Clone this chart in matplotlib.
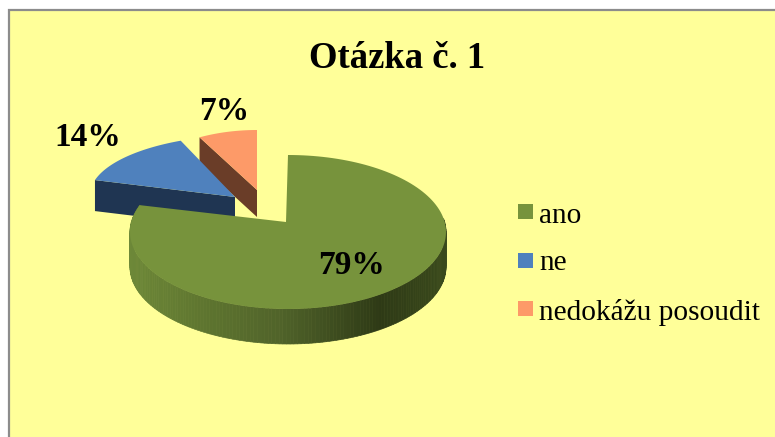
import numpy as np
import matplotlib.pyplot as plt
from matplotlib.patches import Polygon, Rectangle

plt.rcParams["font.family"] = ["Liberation Serif", "DejaVu Serif"]

categories = ["ano", "ne", "nedokážu posoudit"]
values = [79, 14, 7]
colors = ["#77933c", "#4f81bd", "#fd9a68"]
side_colors = ["#3a4a1c", "#1f3552", "#6a3d28"]


def arc(cx, cy, a0, a1, rx=158, ry=77):
    # angles run clockwise from 12 o'clock, like the pie itself
    t = np.radians(np.linspace(a0, a1, 160))
    return np.column_stack([cx + rx * np.sin(t), cy - ry * np.cos(t)])


fig = plt.figure(figsize=(7.75, 4.37), dpi=100, facecolor="white")
ax = fig.add_axes([0, 0, 1, 1])
ax.set_xlim(0, 775)
ax.set_ylim(437, 0)
ax.axis("off")

ax.add_patch(Rectangle((8.5, 9.5), 800, 460, fc="#ffff99", ec="#8c8c8c", lw=1.6))

ax.text(397.5, 58, "Otázka č. 1", fontsize=26.4, fontweight="bold", ha="center", va="center")

angles = np.cumsum([0] + values) / sum(values) * 360

# orange slice
pts = arc(257, 207, angles[2], angles[3], rx=135)
tip = np.array([257, 190])
d = np.array([0, 27])
ax.add_patch(Polygon([pts[0], tip, tip + d, pts[0] + d], fc=side_colors[2], ec="none"))
ax.add_patch(Polygon(np.vstack([tip, pts]), fc=colors[2], ec="none"))

# blue slice
pts = arc(248, 195, angles[1], angles[2], ry=60)
tip = np.array([235, 197])
d = np.array([0, 31])
ax.add_patch(Polygon([pts[0], tip, tip + d, pts[0] + d], fc=side_colors[1], ec="none"))
ax.add_patch(Polygon(np.vstack([tip, pts]), fc=colors[1], ec="none"))

# green slice, side is shaded strip by strip
# perspective pushes the end of the slice a bit further round
green_end = angles[1] + 6
pts = arc(288, 232, 80, green_end)
d = np.array([0, 35])
shade_x = [130, 200, 280, 380, 447]
shade_r = [0x6d, 0x5f, 0x50, 0x2e, 0x3a]
shade_g = [0x88, 0x76, 0x63, 0x3a, 0x4a]
shade_b = [0x38, 0x30, 0x2a, 0x16, 0x1c]
for p, q in zip(pts[:-1], pts[1:]):
    mx = (p[0] + q[0]) / 2
    c = (np.interp(mx, shade_x, shade_r) / 255,
         np.interp(mx, shade_x, shade_g) / 255,
         np.interp(mx, shade_x, shade_b) / 255)
    ax.add_patch(Polygon([p, q, q + d, p + d], fc=c, ec=c, lw=0.5))
tip = np.array([286, 222])
ax.add_patch(Polygon(np.vstack([tip, arc(288, 232, angles[0], green_end)]), fc=colors[0], ec="none"))

# data labels
label_pos = [(352, 266), (88, 138), (224, 112)]
for v, (x, y) in zip(values, label_pos):
    ax.text(x, y, f"{v}%", fontsize=24, fontweight="bold", ha="center", va="center")

# legend
legend_y = [204, 253, 301]
text_y = [216, 263, 313]
for name, c, y, ty in zip(categories, colors, legend_y, text_y):
    ax.add_patch(Rectangle((518, y), 15, 15, fc=c, ec="none"))
    ax.text(539, ty, name, fontsize=21.2, ha="left", va="center")

plt.savefig("out.png", dpi=100)
